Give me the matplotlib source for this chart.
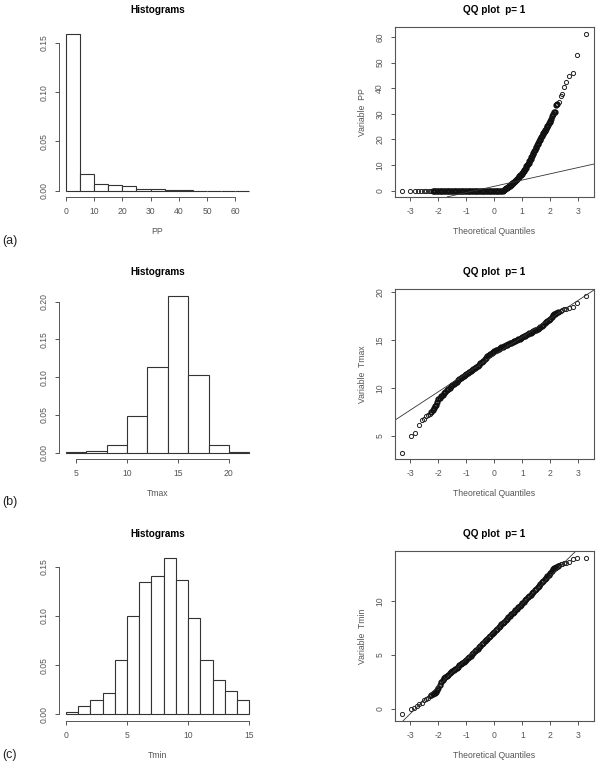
import matplotlib
matplotlib.use("Agg")
import numpy as np
import matplotlib.pyplot as plt
from matplotlib.ticker import FormatStrFormatter

plt.rcParams["font.family"] = ["Liberation Sans", "DejaVu Sans"]
plt.rcParams["axes.unicode_minus"] = False

# --- histogram data (bin edges, densities) ---
pp_edges = [0, 5, 10, 15, 20, 25, 30, 35, 40, 45, 50, 55, 60, 65]
pp_density = [0.1595, 0.017, 0.0071, 0.006, 0.0048, 0.0017, 0.0015,
              0.0006, 0.0005, 0.0, 0.0, 0.0, 0.0]

tmax_edges = [4, 6, 8, 10, 12, 14, 16, 18, 20, 22]
tmax_density = [0.0005, 0.0022, 0.0106, 0.048, 0.1135, 0.208, 0.1034,
                0.0106, 0.0005]

tmin_edges = [0, 1, 2, 3, 4, 5, 6, 7, 8, 9, 10, 11, 12, 13, 14, 15]
tmin_density = [0.002, 0.0085, 0.0146, 0.022, 0.0557, 0.0995, 0.1344,
                0.1405, 0.1592, 0.1361, 0.098, 0.0557, 0.0353, 0.0234, 0.0143]

# --- QQ data: theoretical quantile / sample value pairs ---
# PP: dry days sit at 0
pp_dry_q = [-3.29, -2.99, -2.84, -2.72, -2.60, -2.50, -2.42, -2.33,
            -2.25, -2.20, -2.15, -2.10, -2.05, -2.00, -1.95, -1.90, -1.85,
            -1.80, -1.75, -1.70, -1.65, -1.60, -1.55, -1.50, -1.45, -1.40,
            -1.35, -1.30, -1.25, -1.20, -1.15, -1.10, -1.05, -1.00, -0.95,
            -0.90, -0.85, -0.80, -0.75, -0.70, -0.65, -0.60, -0.55, -0.50,
            -0.45, -0.40, -0.35, -0.30, -0.25, -0.20, -0.15, -0.10, -0.05,
            0.00, 0.05, 0.10, 0.15, 0.20, 0.25, 0.30]
pp_wet_q = [0.350, 0.375, 0.400, 0.425, 0.450, 0.475, 0.500, 0.525, 0.550,
            0.575, 0.600, 0.625, 0.650, 0.675, 0.700, 0.725, 0.750, 0.775,
            0.800, 0.825, 0.850, 0.875, 0.900, 0.925, 0.950, 0.975, 1.000,
            1.025, 1.050, 1.075, 1.100, 1.125, 1.150, 1.175, 1.200, 1.225,
            1.250, 1.275, 1.300, 1.325, 1.350, 1.375, 1.400, 1.425, 1.450,
            1.475, 1.500, 1.525, 1.550, 1.575, 1.600, 1.625, 1.650, 1.675,
            1.700, 1.725, 1.750, 1.775, 1.800, 1.825, 1.850, 1.875, 1.900,
            1.925, 1.950, 1.975, 2.000,
            2.03, 2.06, 2.09, 2.13, 2.17, 2.21, 2.26, 2.31, 2.37, 2.43,
            2.50, 2.58, 2.68, 2.80, 2.97, 3.29]
pp_wet = [0.4, 0.55, 0.7, 0.85, 1.0, 1.2, 1.4, 1.6, 1.8,
          2.05, 2.3, 2.55, 2.8, 3.05, 3.3, 3.55, 3.8, 4.1,
          4.4, 4.7, 5.0, 5.3, 5.6, 5.9, 6.2, 6.55, 6.9,
          7.25, 7.6, 8.05, 8.5, 8.95, 9.4, 9.9, 10.4, 10.9,
          11.4, 11.95, 12.5, 13.05, 13.6, 14.2, 14.8, 15.4, 16.0,
          16.55, 17.1, 17.6, 18.1, 18.65, 19.2, 19.75, 20.3, 20.85,
          21.4, 21.9, 22.4, 22.85, 23.3, 23.75, 24.2, 24.7, 25.2,
          25.7, 26.2, 26.7, 27.2,
          28.0, 29.0, 30.0, 30.5, 30.8, 33.4, 34.0, 34.7, 37.0, 37.7,
          40.5, 42.3, 44.8, 46.0, 53.1, 61.3]
pp_quartiles = (0.0, 3.3)

tmax_q = [-3.30, -2.99, -2.82, -2.69, -2.58, -2.51, -2.43, -2.37, -2.31,
          -2.26, -2.21, -2.17, -2.13, -2.09, -2.05,
          -2.00, -1.95, -1.90, -1.85, -1.80, -1.75, -1.70, -1.65, -1.60,
          -1.55, -1.50, -1.45, -1.40, -1.35, -1.30, -1.25, -1.20, -1.15,
          -1.10, -1.05, -1.00, -0.95, -0.90, -0.85, -0.80, -0.75, -0.70,
          -0.65, -0.60, -0.55, -0.50, -0.45, -0.40, -0.35, -0.30, -0.25,
          -0.20, -0.15, -0.10, -0.05, 0.00, 0.05, 0.10, 0.15, 0.20, 0.25,
          0.30, 0.35, 0.40, 0.45, 0.50, 0.55, 0.60, 0.65, 0.70, 0.75,
          0.80, 0.85, 0.90, 0.95, 1.00, 1.05, 1.10, 1.15, 1.20, 1.25,
          1.30, 1.35, 1.40, 1.45, 1.50, 1.55, 1.60, 1.65, 1.70, 1.75,
          1.80, 1.85, 1.90, 1.95, 2.00, 2.05, 2.10,
          2.14, 2.17, 2.21, 2.26, 2.31, 2.37, 2.43, 2.50, 2.58, 2.68,
          2.80, 2.97, 3.29]
tmax_v = [3.23, 4.93, 5.31, 6.07, 6.67, 6.77, 7.00, 7.12, 7.30,
          7.45, 7.64, 7.90, 8.10, 8.25, 8.50,
          8.80, 8.95, 9.10, 9.30, 9.45, 9.60, 9.75, 9.90, 10.02,
          10.15, 10.28, 10.40, 10.52, 10.65, 10.78, 10.90, 11.02, 11.12,
          11.22, 11.32, 11.42, 11.54, 11.66, 11.78, 11.90, 12.02, 12.12,
          12.22, 12.32, 12.43, 12.55, 12.70, 12.85, 13.00, 13.15, 13.30,
          13.45, 13.58, 13.68, 13.77, 13.85, 13.92, 14.00, 14.07, 14.14, 14.22,
          14.30, 14.38, 14.46, 14.53, 14.60, 14.67, 14.74, 14.81, 14.88, 14.95,
          15.02, 15.09, 15.16, 15.23, 15.30, 15.38, 15.46, 15.54, 15.62, 15.70,
          15.78, 15.86, 15.94, 16.02, 16.10, 16.20, 16.30, 16.40, 16.50, 16.62,
          16.74, 16.86, 16.98, 17.10, 17.22, 17.40, 17.58,
          17.70, 17.75, 17.85, 17.90, 17.95, 18.05, 18.10, 18.20, 18.30, 18.35,
          18.45, 18.84, 19.65]
tmax_quartiles = (12.13, 14.71)

tmin_q = [-3.30, -2.99, -2.87, -2.78, -2.69, -2.60, -2.50, -2.43, -2.37,
          -2.31, -2.26, -2.21, -2.17, -2.13, -2.09, -2.05,
          -2.00, -1.95, -1.90, -1.85, -1.80, -1.75, -1.70, -1.65, -1.60,
          -1.55, -1.50, -1.45, -1.40, -1.35, -1.30, -1.25, -1.20, -1.15,
          -1.10, -1.05, -1.00, -0.95, -0.90, -0.85, -0.80, -0.75, -0.70,
          -0.65, -0.60, -0.55, -0.50, -0.45, -0.40, -0.35, -0.30, -0.25,
          -0.20, -0.15, -0.10, -0.05, 0.00, 0.05, 0.10, 0.15, 0.20, 0.25,
          0.30, 0.35, 0.40, 0.45, 0.50, 0.55, 0.60, 0.65, 0.70, 0.75,
          0.80, 0.85, 0.90, 0.95, 1.00, 1.05, 1.10, 1.15, 1.20, 1.25,
          1.30, 1.35, 1.40, 1.45, 1.50, 1.55, 1.60, 1.65, 1.70, 1.75,
          1.80, 1.85, 1.90, 1.95, 2.00, 2.05, 2.10,
          2.13, 2.17, 2.21, 2.26, 2.31, 2.37, 2.43, 2.50, 2.58, 2.68,
          2.80, 2.97, 3.29]
tmin_v = [-0.52, 0.00, 0.10, 0.25, 0.41, 0.56, 0.78, 0.90, 1.03,
          1.15, 1.25, 1.35, 1.45, 1.50, 1.60, 1.75,
          1.97, 2.20, 2.47, 2.65, 2.83, 2.96, 3.09, 3.19, 3.29,
          3.39, 3.50, 3.60, 3.71, 3.82, 3.93, 4.04, 4.16, 4.26,
          4.37, 4.47, 4.57, 4.70, 4.83, 4.96, 5.09, 5.21, 5.34,
          5.47, 5.60, 5.72, 5.85, 5.99, 6.13, 6.27, 6.40, 6.54,
          6.67, 6.80, 6.92, 7.05, 7.18, 7.32, 7.46, 7.59, 7.73, 7.87,
          8.00, 8.12, 8.25, 8.38, 8.51, 8.65, 8.78, 8.91, 9.04, 9.17,
          9.31, 9.44, 9.57, 9.70, 9.84, 9.97, 10.10, 10.23, 10.37, 10.50,
          10.63, 10.77, 10.91, 11.04, 11.18, 11.32, 11.47, 11.62, 11.78, 11.92,
          12.06, 12.20, 12.34, 12.49, 12.66, 12.87, 13.05,
          13.10, 13.12, 13.20, 13.30, 13.38, 13.45, 13.50, 13.55, 13.60, 13.70,
          13.90, 14.08, 14.08]
tmin_quartiles = (5.506, 8.954)

hist_xticks = [[0, 10, 20, 30, 40, 50, 60], [5, 10, 15, 20], [0, 5, 10, 15]]
hist_yticks = [[0, 0.05, 0.10, 0.15], [0, 0.05, 0.10, 0.15, 0.20], [0, 0.05, 0.10, 0.15]]
qq_yticks = [[0, 10, 20, 30, 40, 50, 60], [5, 10, 15, 20], [0, 5, 10]]
qq_xticks = [-3, -2, -1, 0, 1, 2, 3]

GREY = "#555555"
DARK = "#333333"
FS = 6.2


def r_range(vals):
    lo, hi = min(vals), max(vals)
    pad = 0.04 * (hi - lo)
    return lo - pad, hi + pad


def style_ticks(ax):
    ax.tick_params(colors=GREY, labelsize=FS, length=3, width=0.7, pad=4.5)
    ax.tick_params(axis="y", labelrotation=90)
    for lab in ax.get_yticklabels():
        lab.set_va("center")


def hist_panel(ax, edges, dens, xticks, yticks, xlabel):
    widths = np.diff(edges)
    ax.bar(edges[:-1], dens, width=widths, align="edge", color="white",
           edgecolor=DARK, linewidth=0.8)
    ax.set_xlim(*r_range(edges))
    ax.set_ylim(*r_range([0] + list(dens)))
    for s in ["top", "right"]:
        ax.spines[s].set_visible(False)
    for s in ["left", "bottom"]:
        ax.spines[s].set_color(GREY)
        ax.spines[s].set_linewidth(0.7)
    ax.spines["bottom"].set_bounds(xticks[0], xticks[-1])
    ax.spines["left"].set_bounds(yticks[0], yticks[-1])
    ax.set_xticks(xticks)
    ax.set_yticks(yticks)
    ax.yaxis.set_major_formatter(FormatStrFormatter("%.2f"))
    style_ticks(ax)
    ax.set_title("Histograms", fontsize=7.2, fontweight="bold", pad=10.5)
    ax.set_xlabel(xlabel, fontsize=FS, color=GREY)
    ax.xaxis.label.set_va("center")
    ax.xaxis.set_label_coords(0.5, -0.203)


def qq_panel(ax, q, v, quartiles, yticks, name):
    q = np.asarray(q)
    v = np.asarray(v)
    # where ~1000 circles pile up the original shows a solid band:
    # draw the closely spaced points with heavier rings
    gap = np.diff(q)
    dense = np.zeros(len(q), bool)
    dense[1:-1] = (gap[:-1] <= 0.051) & (gap[1:] <= 0.051)
    ax.plot(q[~dense], v[~dense], linestyle="none", marker="o", markersize=3.0,
            markerfacecolor="none", markeredgecolor="#222222",
            markeredgewidth=0.7)
    ax.plot(q[dense], v[dense], linestyle="none", marker="o", markersize=3.2,
            markerfacecolor="none", markeredgecolor="#111111",
            markeredgewidth=1.3)
    q1, q3 = quartiles
    slope = (q3 - q1) / (2 * 0.6745)
    inter = q1 + 0.6745 * slope
    ax.axline((0, inter), slope=slope, color=DARK, linewidth=0.6)
    ax.set_xlim(*r_range(q))
    ax.set_ylim(*r_range(v))
    for s in ax.spines.values():
        s.set_color(GREY)
        s.set_linewidth(0.8)
    ax.set_xticks(qq_xticks)
    ax.set_yticks(yticks)
    style_ticks(ax)
    ax.set_title("QQ plot  p= 1", fontsize=7.2, fontweight="bold", pad=10.5)
    ax.set_xlabel("Theoretical Quantiles", fontsize=FS, color=GREY)
    ax.xaxis.label.set_va("center")
    ax.xaxis.set_label_coords(0.5, -0.203)
    ax.set_ylabel("Variable  " + name, fontsize=FS, color=GREY)
    ax.yaxis.label.set_va("center")
    ax.yaxis.set_label_coords(-0.164, 0.5)


fig = plt.figure(figsize=(6.02, 7.62), dpi=100)

row_bottoms = [0.7417, 0.3979, 0.0542]
h = 0.2224
hist_rect = (58.6 / 602, 198 / 602)
qq_rect = (394.7 / 602, 199 / 602)

hist_data = [(pp_edges, pp_density, "PP"),
             (tmax_edges, tmax_density, "Tmax"),
             (tmin_edges, tmin_density, "Tmin")]

for i, (edges, dens, name) in enumerate(hist_data):
    ax = fig.add_axes([hist_rect[0], row_bottoms[i], hist_rect[1], h])
    hist_panel(ax, edges, dens, hist_xticks[i], hist_yticks[i], name)

# PP panel: dry values are zero
ax = fig.add_axes([qq_rect[0], row_bottoms[0], qq_rect[1], h])
qq_panel(ax, pp_dry_q + pp_wet_q, [0.0] * len(pp_dry_q) + pp_wet,
         pp_quartiles, qq_yticks[0], "PP")

ax = fig.add_axes([qq_rect[0], row_bottoms[1], qq_rect[1], h])
qq_panel(ax, tmax_q, tmax_v, tmax_quartiles, qq_yticks[1], "Tmax")

ax = fig.add_axes([qq_rect[0], row_bottoms[2], qq_rect[1], h])
qq_panel(ax, tmin_q, tmin_v, tmin_quartiles, qq_yticks[2], "Tmin")

for label, ypx in [("(a)", 241), ("(b)", 502), ("(c)", 755)]:
    fig.text(2 / 602, 1 - ypx / 762, label, fontsize=9, color="#222222",
             ha="left", va="center")

fig.savefig("out.png", dpi=100, facecolor="white")
